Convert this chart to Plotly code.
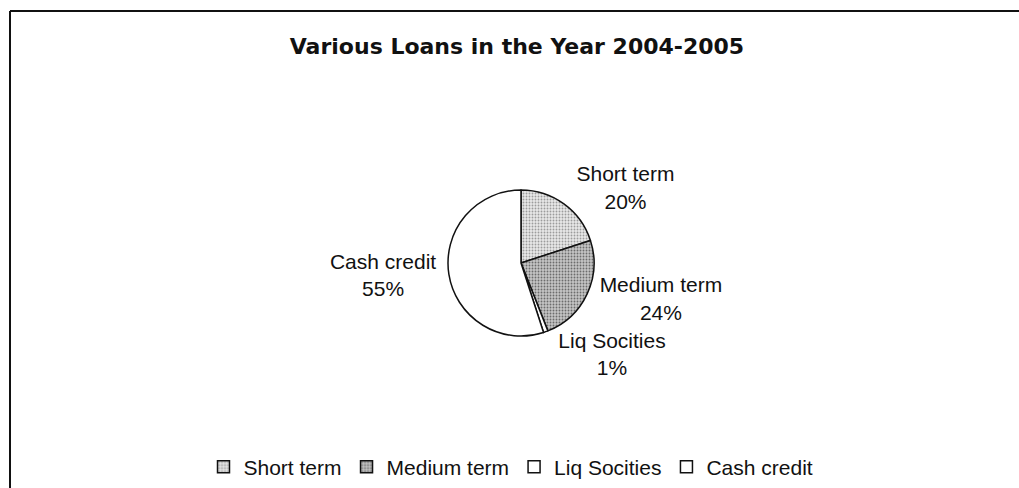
import plotly.graph_objects as go

# Loan shares, 2004-2005
categories = ["Short term", "Medium term", "Liq Socities", "Cash credit"]
shares = [20, 24, 1, 55]

W, H = 1019, 488

fill_colors = ["#e8e8e8", "#c4c4c4", "#ffffff", "#ffffff"]
dot_colors = ["#9c9c9c", "#6c6c6c", "#ffffff", "#ffffff"]
dot_shapes = [".", ".", "", ""]

label_font = dict(family="Liberation Sans", size=21, color="#111111")

fig = go.Figure(
    go.Pie(
        labels=categories,
        values=shares,
        sort=False,
        direction="clockwise",
        rotation=0,
        textposition="outside",
        texttemplate="%{label}<br>%{percent:.0%}",
        outsidetextfont=label_font,
        marker=dict(
            colors=fill_colors,
            line=dict(color="#111111", width=1.5),
            pattern=dict(
                shape=dot_shapes,
                fgcolor=dot_colors,
                bgcolor=fill_colors,
                size=3,
                solidity=0.3,
            ),
        ),
        domain=dict(
            x=[(521 - 73) / W, (521 + 73) / W],
            y=[1 - (263 + 73) / H, 1 - (263 - 73) / H],
        ),
        showlegend=True,
        hoverinfo="label+percent",
    )
)

fig.update_layout(
    width=W,
    height=H,
    margin=dict(l=0, r=0, t=0, b=0),
    paper_bgcolor="white",
    plot_bgcolor="white",
    title=dict(
        text="<b>Various Loans in the Year 2004-2005</b>",
        font=dict(family="DejaVu Sans", size=22, color="#111111"),
        x=517 / W,
        xanchor="center",
        y=1 - 46 / H,
        yanchor="middle",
    ),
    legend=dict(
        orientation="h",
        x=511 / W,
        xanchor="center",
        y=1 - 467 / H,
        yanchor="middle",
        font=dict(family="Liberation Sans", size=21, color="#111111"),
        itemwidth=30,
        tracegroupgap=0,
    ),
    shapes=[
        # chart frame: top and left edges
        dict(type="line", xref="paper", yref="paper",
             x0=10 / W, x1=1.0, y0=1 - 11 / H, y1=1 - 11 / H,
             line=dict(color="#111111", width=2)),
        dict(type="line", xref="paper", yref="paper",
             x0=10 / W, x1=10 / W, y0=1 - 11 / H, y1=0,
             line=dict(color="#111111", width=2)),
    ],
)

fig.write_html("out.html")
